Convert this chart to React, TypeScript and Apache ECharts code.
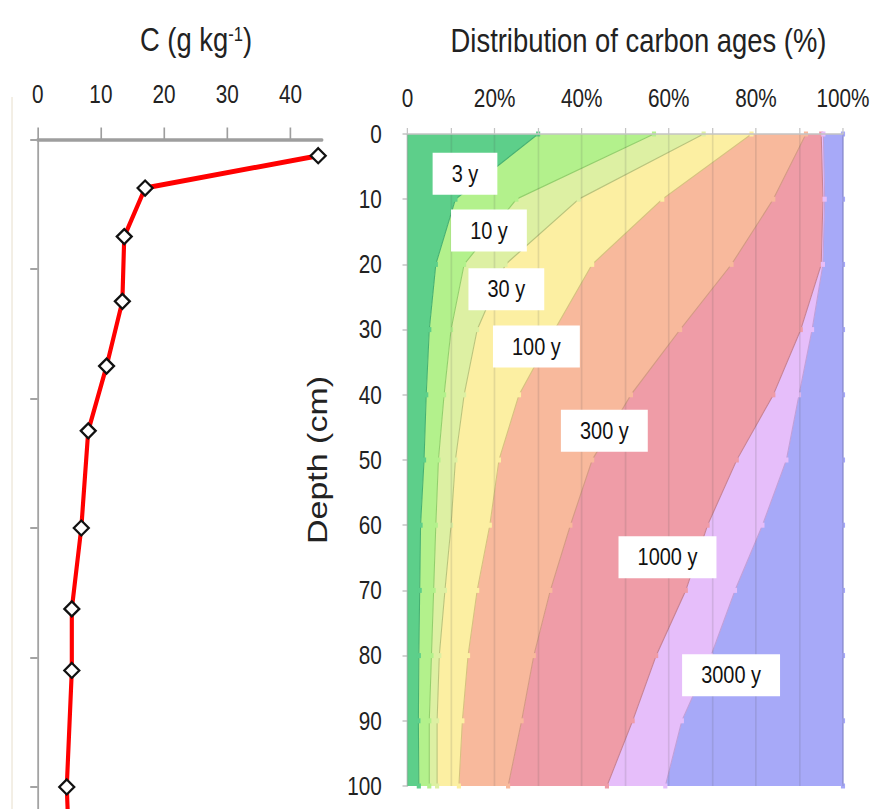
import React, { useEffect, useRef } from "react";
import * as echarts from "echarts";

// ---------- data ----------
const depthLabels = ["0", "10", "20", "30", "40", "50", "60", "70", "80", "90", "100"];

const carbonDepth = [2.5, 7.5, 15, 25, 35, 45, 60, 72.5, 82, 100, 110];
const carbonContent = [44.4, 17.0, 13.7, 13.4, 10.9, 8.0, 6.9, 5.4, 5.4, 4.6, 5.0];
const carbonTicks = [0, 10, 20, 30, 40];
const depthTicks = [0, 20, 40, 60, 80, 100];

const ageClasses = ["< 3 y", "3-10 y", "10-30 y", "30-100 y", "100-300 y", "300-1000 y", "1000-3000 y", "> 3000 y"];
const shareLt3 = [30, 11, 6.5, 5, 4.3, 3.8, 3, 2.8, 2.6, 2.5, 2.6];
const share3to10 = [26.6, 14, 6.5, 5, 4.1, 3.3, 3.5, 3.2, 2.9, 2.5, 2.4];
const share10to30 = [11.4, 14.3, 9.5, 6, 4.6, 3.9, 3.5, 2.6, 1.8, 1.8, 1.8];
const share30to100 = [11, 19.2, 19.9, 17.8, 12.6, 10, 8.9, 7.4, 6.6, 5.8, 5];
const share100to300 = [12.5, 25.5, 32, 28.8, 25.7, 21.4, 18.5, 16.8, 15.1, 13.6, 11.3];
const share300to1000 = [3.5, 11.4, 20.6, 27.7, 32.7, 33.2, 31.5, 31.1, 28.1, 25.5, 22.7];
const share1000to3000 = [0.5, 0.4, 0.4, 2.6, 5.9, 11.4, 12.6, 11.3, 12.6, 11.3, 13.4];
const shareGt3000 = [4.5, 4.2, 4.6, 7.1, 10.1, 13, 18.5, 24.8, 30.3, 37, 40.8];

const boundaryLabels = ["3 y", "10 y", "30 y", "100 y", "300 y", "1000 y", "3000 y"];
const boundaryLabelPct = [13.2, 18.7, 22.7, 29.6, 45.2, 59.7, 74.3];
const boundaryLabelDepth = [6.1, 14.8, 23.8, 32.6, 45.5, 64.9, 83];

// ---------- styles ----------
const W = 1051;
const H = 809;
const S = 872 / W;
const FONT = "'Liberation Sans', Arial, Helvetica, sans-serif";
const bandColors = ["#5dcf8a", "#b3f18c", "#ddf0a3", "#fcefa2", "#f8b99c", "#ef9ca7", "#e6befa", "#a7a9f8"];
const lineColors = ["#46b172", "#92cf6c", "#b9c47c", "#d6c27e", "#d49a82", "#c98292", "#c29fd8", "#8f93e6"];

const shares = [shareLt3, share3to10, share10to30, share30to100, share100to300, share300to1000, share1000to3000, shareGt3000];

// left panel: depth 0 at y=139.5, 6.475 px per cm, grid reaches the bottom of the page
const LEFT_TOP = 139.5;
const LEFT_PX_PER_CM = 6.475;
const LEFT_MAX_DEPTH = Math.round(((H - LEFT_TOP) / LEFT_PX_PER_CM) * 10) / 10;

function buildOption(): any {
  const bandSeries = shares.map((data, i) => ({
    type: "line",
    name: ageClasses[i],
    xAxisIndex: 1,
    yAxisIndex: 1,
    stack: "ages",
    data,
    symbol: "rect",
    symbolSize: 5,
    showSymbol: true,
    showAllSymbol: true,
    lineStyle: { color: lineColors[i], width: 1.3 },
    itemStyle: { color: bandColors[i] },
    areaStyle: { color: bandColors[i], opacity: 1 },
    z: 2,
  }));

  return {
    animation: false,
    backgroundColor: "#ffffff",
    textStyle: { fontFamily: FONT },
    graphic: [
      {
        type: "line",
        shape: { x1: 14.5, y1: 97, x2: 14.5, y2: H },
        style: { stroke: "#f1ece0", lineWidth: 2 },
        silent: true,
      },
      {
        type: "text",
        x: 196 / S,
        y: 40,
        style: {
          text: "{a|C (g kg}{b|-1}{a|)}",
          align: "center",
          verticalAlign: "middle",
          rich: {
            a: { fontSize: 33, fontFamily: FONT, fill: "#222" },
            b: { fontSize: 20, fontFamily: FONT, fill: "#222", verticalAlign: "top" },
          },
        },
      },
      {
        type: "text",
        x: 638.5 / S,
        y: 41,
        style: {
          text: "Distribution of carbon ages (%)",
          align: "center",
          verticalAlign: "middle",
          fontSize: 33,
          fontFamily: FONT,
          fill: "#222",
        },
      },
    ],
    grid: [
      { left: 37.7 / S, top: LEFT_TOP, width: (322 - 37.7) / S, bottom: 0 },
      { left: 407.5 / S, top: 134, right: W - 850 / S, bottom: H - 786 },
    ],
    xAxis: [
      {
        gridIndex: 0,
        type: "value",
        position: "top",
        min: 0,
        max: 45,
        axisLine: { show: true, lineStyle: { color: "#9e9e9e", width: 3.5 } },
        axisTick: { show: true, length: 12, lineStyle: { color: "#9e9e9e", width: 2 }, customValues: carbonTicks },
        axisLabel: { fontSize: 25, color: "#222", margin: 33, customValues: carbonTicks, fontFamily: FONT },
        splitLine: { show: false },
      },
      {
        gridIndex: 1,
        type: "value",
        position: "top",
        min: 0,
        max: 100,
        interval: 10,
        z: 10,
        axisLine: { show: true, lineStyle: { color: "#c4c4c4", width: 1.5 } },
        axisTick: { show: true, length: 6, lineStyle: { color: "#c4c4c4", width: 1.5 } },
        axisLabel: {
          fontSize: 25,
          color: "#222",
          margin: 23,
          fontFamily: FONT,
          formatter: (v: number) => (v === 0 ? "0" : v % 20 === 0 ? v + "%" : ""),
        },
        splitLine: { show: true, lineStyle: { color: "rgba(80,80,80,0.14)", width: 2 } },
      },
    ],
    yAxis: [
      {
        gridIndex: 0,
        type: "value",
        inverse: true,
        min: 0,
        max: LEFT_MAX_DEPTH,
        axisLine: { show: true, lineStyle: { color: "#a3a3a3", width: 2.2 } },
        axisTick: { show: true, length: 9, lineStyle: { color: "#a3a3a3", width: 2 }, customValues: depthTicks },
        axisLabel: { show: false },
        splitLine: { show: false },
      },
      {
        gridIndex: 1,
        type: "category",
        inverse: true,
        boundaryGap: false,
        data: depthLabels,
        axisLine: { show: true, lineStyle: { color: "#c8c8c8", width: 1.5 } },
        axisTick: { show: true, length: 6, lineStyle: { color: "#c4c4c4", width: 1.5 } },
        axisLabel: { fontSize: 25, color: "#222", margin: 31, fontFamily: FONT },
        name: "Depth (cm)",
        nameLocation: "middle",
        nameGap: 91,
        nameTextStyle: { fontSize: 34, color: "#222", fontFamily: FONT },
        splitLine: { show: false },
      },
      {
        gridIndex: 1,
        type: "value",
        inverse: true,
        min: 0,
        max: 100,
        show: false,
      },
    ],
    series: [
      {
        type: "line",
        name: "C",
        xAxisIndex: 0,
        yAxisIndex: 0,
        data: carbonDepth.map((d, i) => [carbonContent[i], d]),
        lineStyle: { color: "#ff0000", width: 5 },
        symbol: "diamond",
        symbolSize: [18, 15],
        itemStyle: { color: "#ffffff", borderColor: "#111", borderWidth: 2.5 },
        z: 3,
      },
      ...bandSeries,
      {
        type: "scatter",
        name: "labels",
        xAxisIndex: 1,
        yAxisIndex: 2,
        symbolSize: 1,
        itemStyle: { color: "transparent", opacity: 1 },
        z: 20,
        data: boundaryLabels.map((n, i) => ({ name: n, value: [boundaryLabelPct[i], boundaryLabelDepth[i]] })),
        label: {
          show: true,
          position: "inside",
          formatter: "{b}",
          backgroundColor: "#ffffff",
          padding: [9, 23],
          fontSize: 24,
          color: "#111",
          fontFamily: FONT,
          opacity: 1,
        },
      },
    ],
  };
}

export default function App() {
  const ref = useRef<HTMLDivElement>(null);
  useEffect(() => {
    if (!ref.current) return;
    const chart = echarts.init(ref.current, null, { renderer: "svg" });
    chart.setOption(buildOption());
    return () => chart.dispose();
  }, []);
  return (
    <div
      style={{
        position: "fixed",
        left: 0,
        top: 0,
        width: 872,
        height: H,
        overflow: "hidden",
        background: "#fff",
      }}
    >
      <div
        ref={ref}
        style={{ width: W, height: H, transform: `scaleX(${S})`, transformOrigin: "0 0" }}
      />
    </div>
  );
}
